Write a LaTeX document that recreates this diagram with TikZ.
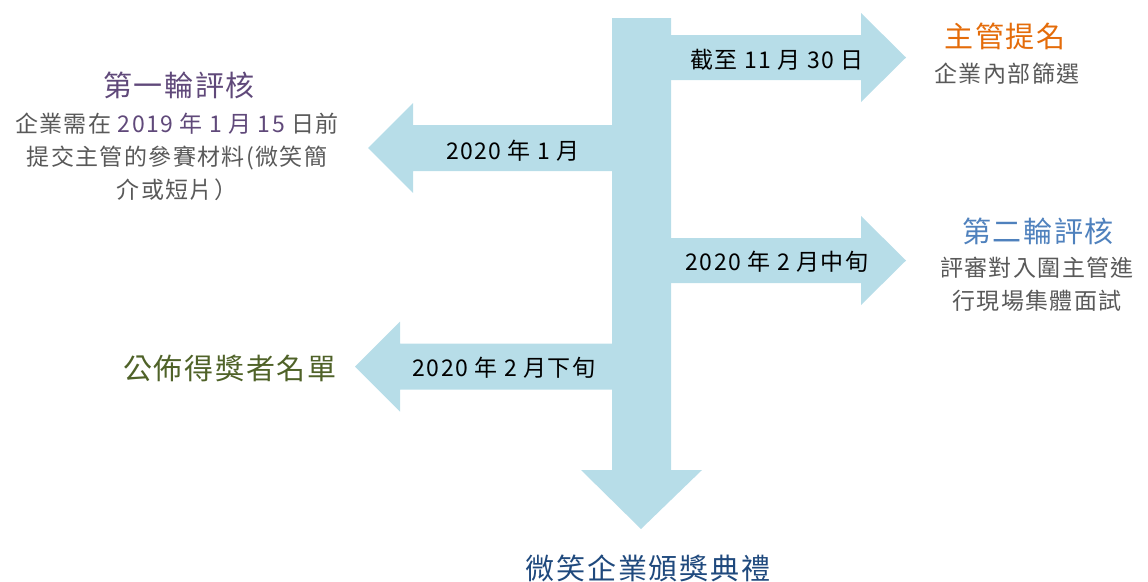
\documentclass[tikz,border=0pt]{standalone}
\usepackage{fontspec}
\setmainfont{Noto Sans CJK TC}[LetterSpace=6]
\usetikzlibrary{positioning}

\definecolor{bandblue}{HTML}{B7DDE8}
\definecolor{roundone}{HTML}{60497A}
\definecolor{bodygray}{HTML}{595959}
\definecolor{nomorange}{HTML}{E46C0A}
\definecolor{roundtwo}{HTML}{4F81BD}
\definecolor{listgreen}{HTML}{4F6228}
\definecolor{finalnavy}{HTML}{1F497D}

\tikzset{
    band/.style={fill=bandblue},
    datelabel/.style={inner sep=0, font=\fontsize{23}{26}\selectfont},
    headline/.style={inner sep=0, font=\fontsize{29}{33}\selectfont},
    bodytext/.style={inner sep=0, align=center, text=bodygray, font=\fontsize{23}{33}\selectfont}
}

\begin{document}
\begin{tikzpicture}[x=1pt, y=-1pt]
    \useasboundingbox (0,0) rectangle (1148,581);

    \fill[band] (612,18) -- (671,18) -- (671,470) -- (702,470) -- (641,529) -- (581,470) -- (612,470) -- cycle;

    \foreach \c in {57.5, 260.5}
    {
        \fill[band] (670,{\c-22.5}) -- (861,{\c-22.5}) -- (861,{\c-44.5}) -- (906,\c) -- (861,{\c+44.5}) -- (861,{\c+22.5}) -- (670,{\c+22.5}) -- cycle;
    }

    \foreach \c/\b in {148/413, 366.5/400}
    {
        \fill[band] (613,{\c-23}) -- (\b,{\c-23}) -- (\b,{\c-45}) -- ({\b-45},\c) -- (\b,{\c+45}) -- (\b,{\c+23}) -- (613,{\c+23}) -- cycle;
    }

    \node[datelabel] (lab1) at (777, 60) {截至 11 月 30 日};
    \node[datelabel] (lab2) at (513, 151) {2020 年 1 月};
    \node[datelabel] (lab3) at (777, 262) {2020 年 2 月中旬};
    \node[datelabel] (lab4) at (504, 368) {2020 年 2 月下旬};

    \node[headline, text=nomorange] (nom) at (1005, 36) {主管提名};
    \node[bodytext] (nombody) at (1007, 74) {企業內部篩選};

    \node[headline, text=roundone] (r1) at (179, 85) {第一輪評核};
    \node[bodytext] (r1body) at (177, 157) {企業需在 \textcolor{roundone}{2019 年 1 月 15} 日前\\提交主管的參賽材料(微笑簡\\介或短片）};

    \node[headline, text=roundtwo] (r2) at (1038, 231) {第二輪評核};
    \node[bodytext] (r2body) at (1037, 284) {評審對入圍主管進\\行現場集體面試};

    \node[headline, text=listgreen] (list) at (230, 368) {公佈得獎者名單};
    \node[headline, text=finalnavy] (final) at (648, 568) {微笑企業頒獎典禮};
\end{tikzpicture}
\end{document}
